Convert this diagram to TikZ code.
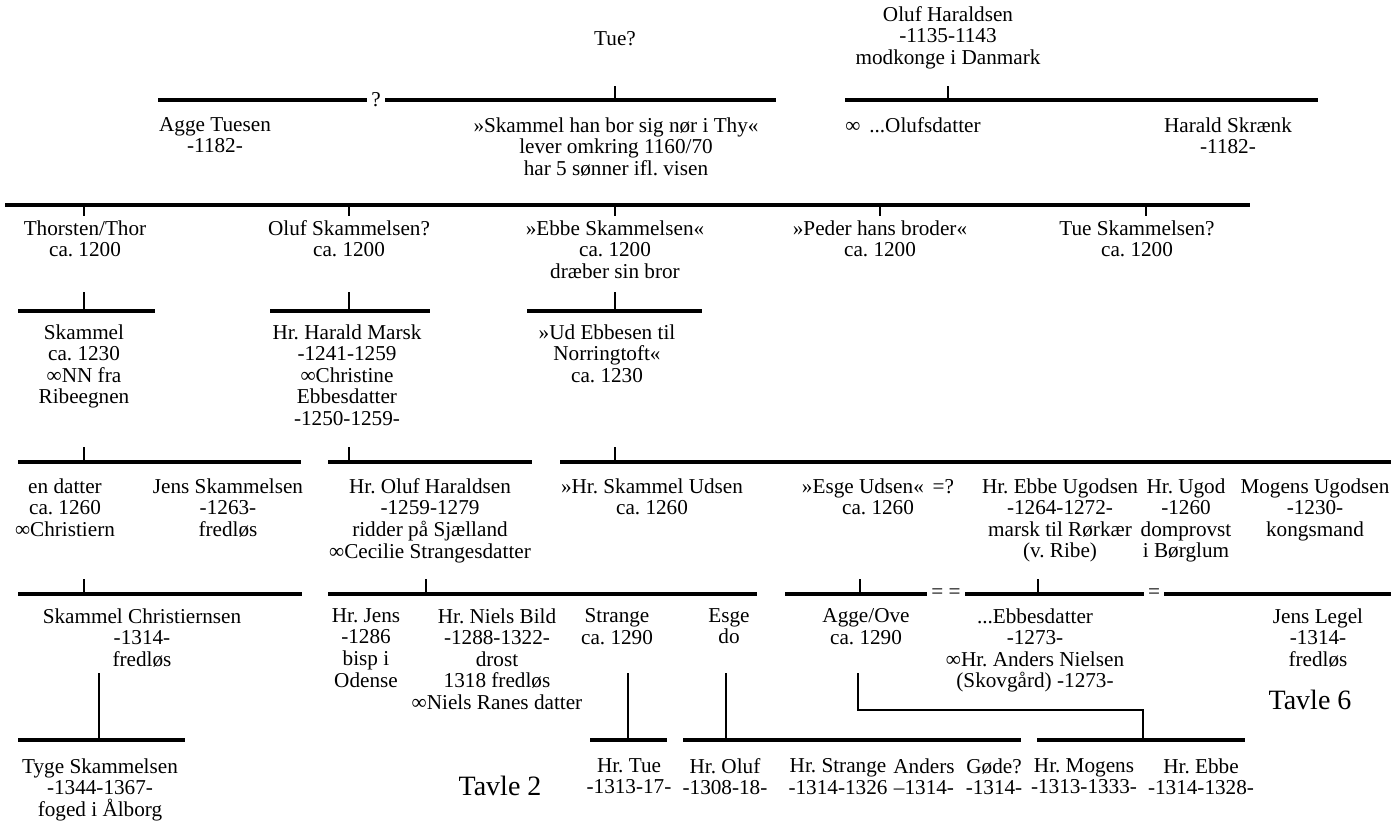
\documentclass[tikz,border=0pt]{standalone}
\usepackage{fontspec}
\setmainfont{Liberation Serif}
\frenchspacing
\usetikzlibrary{calc}
\tikzset{
	person/.style={align=center, anchor=north, inner sep=0pt, font=\fontsize{10.6}{10.8}\selectfont},
	bar/.style={line width=1.6pt},
	tick/.style={line width=1pt},
	stem/.style={line width=1.4pt},
	gap/.style={inner sep=2pt, font=\fontsize{10.6}{10.8}\selectfont},
	tavle/.style={font=\fontsize{14}{14}\selectfont}
}

\begin{document}
\begin{tikzpicture}[x=0.5pt, y=-0.5pt]
			%%%%% START %%%%%
			\useasboundingbox (0, 0) rectangle (1391, 823);
			
			\node[person] (tue) at (615, 31) {Tue?};
			\node[person] (olufhar) at (948, 6) {Oluf Haraldsen\\-1135-1143\\modkonge i Danmark};
			
			\coordinate (j0a) at (615, 100);
			\coordinate (j0b) at (948, 100);
			\node[gap] (q0) at (376, 100) {?};
			\draw[bar] (158, 100) -- (q0.west);
			\draw[bar] (q0.east) -- (776, 100);
			\draw[bar] (845, 100) -- (1318, 100);
			\draw[tick] (j0a) -- ++(0, -14);
			\draw[tick] (j0b) -- ++(0, -14);
			
			\node[person] (agge) at (215, 117) {Agge Tuesen\\-1182-};
			\node[person] (skammel) at (616, 117) {»Skammel han bor sig nør i Thy«\\lever omkring 1160/70\\har 5 sønner ifl. visen};
			\node[person, anchor=north west] (olufsd) at (845, 117) {∞ \,...Olufsdatter};
			\node[person] (skraenk) at (1228, 117) {Harald Skrænk\\-1182-};
			
			\draw[bar] (5, 205) -- (1250, 205);
			\foreach \x [count=\i] in {84, 349, 615, 880, 1146}
				\draw[tick] (\x, 205) coordinate (j1\i) -- ++(0, 11);
			
			\node[person] (thor) at (85, 220) {Thorsten/Thor\\ca. 1200};
			\node[person] (olufsk) at (349, 220) {Oluf Skammelsen?\\ca. 1200};
			\node[person] (ebbe) at (615, 220) {»Ebbe Skammelsen«\\ca. 1200\\dræber sin bror};
			\node[person] (peder) at (880, 220) {»Peder hans broder«\\ca. 1200};
			\node[person] (tuesk) at (1137, 220) {Tue Skammelsen?\\ca. 1200};
			
			\draw[bar] (18, 311) -- (155, 311);
			\draw[bar] (270, 311) -- (430, 311);
			\draw[bar] (527, 311) -- (702, 311);
			\foreach \x [count=\i] in {84, 349, 615}
				\draw[tick] (\x, 311) coordinate (j2\i) -- ++(0, -19);
			
			\node[person] (skam2) at (84, 324) {Skammel\\ca. 1230\\∞NN fra\\Ribeegnen};
			\node[person] (harald) at (347, 324) {Hr. Harald Marsk\\-1241-1259\\∞Christine\\Ebbesdatter\\-1250-1259-};
			\node[person] (ud) at (607, 324) {»Ud Ebbesen til\\Norringtoft«\\ca. 1230};
			
			\draw[bar] (18, 462) -- (301, 462);
			\draw[bar] (328, 462) -- (532, 462);
			\draw[bar] (560, 462) -- (1391, 462);
			\foreach \x [count=\i] in {84, 349, 615}
				\draw[tick] (\x, 462) coordinate (j3\i) -- ++(0, -15);
			
			\node[person] (datter) at (65, 478) {en datter\\ca. 1260\\∞Christiern};
			\node[person] (jenssk) at (228, 478) {Jens Skammelsen\\-1263-\\fredløs};
			\node[person] (olufh2) at (430, 478) {Hr. Oluf Haraldsen\\-1259-1279\\ridder på Sjælland\\∞Cecilie Strangesdatter};
			\node[person] (udsen) at (652, 478) {»Hr. Skammel Udsen\\ca. 1260};
			\node[person] (esgeu) at (878, 478) {»Esge Udsen« \,=?\\ca. 1260};
			\node[person] (ebbeu) at (1060, 478) {Hr. Ebbe Ugodsen\\-1264-1272-\\marsk til Rørkær\\(v. Ribe)};
			\node[person] (ugod) at (1186, 478) {Hr. Ugod\\-1260\\domprovst\\i Børglum};
			\node[person] (mogensu) at (1315, 478) {Mogens Ugodsen\\-1230-\\kongsmand};
			
			\node[gap] (eq1) at (946, 594) {= =};
			\node[gap] (eq2) at (1154, 594) {=};
			\draw[bar] (18, 594) -- (302, 594);
			\draw[bar] (328, 594) -- (757, 594);
			\draw[bar] (785, 594) -- (eq1.west);
			\draw[bar] (eq1.east) -- (eq2.west);
			\draw[bar] (eq2.east) -- (1391, 594);
			\foreach \x [count=\i] in {84, 426, 860, 1038}
				\draw[tick] (\x, 594) coordinate (j4\i) -- ++(0, -15);
			
			\node[person] (schr) at (142, 608) {Skammel Christiernsen\\-1314-\\fredløs};
			\node[person] (hrjens) at (366, 608) {Hr. Jens\\-1286\\bisp i\\Odense};
			\node[person] (niels) at (497, 608) {Hr. Niels Bild\\-1288-1322-\\drost\\1318 fredløs\\∞Niels Ranes datter};
			\node[person] (strange) at (617, 608) {Strange\\ca. 1290};
			\node[person] (esge) at (729, 608) {Esge\\do};
			\node[person] (ove) at (866, 608) {Agge/Ove\\ca. 1290};
			\node[person] (ebbesd) at (1035, 608) {...Ebbesdatter\\-1273-\\∞Hr. Anders Nielsen\\(Skovgård) -1273-};
			\node[person] (legel) at (1318, 608) {Jens Legel\\-1314-\\fredløs};
			\node[tavle] (t6) at (1310, 700) {Tavle 6};
			
			\coordinate (j5a) at (99, 740);
			\coordinate (j5b) at (628, 740);
			\coordinate (j5c) at (726, 740);
			\coordinate (j5d) at (1143, 740);
			\coordinate (ovetop) at (858, 673);
			\draw[stem] (j5a) -- ++(0, -67);
			\draw[stem] (j5b) -- ++(0, -67);
			\draw[stem] (j5c) -- ++(0, -67);
			\draw[stem] (j5d) -- ++(0, -30) -| (ovetop);
			
			\draw[bar] (18, 740) -- (185, 740);
			\draw[bar] (590, 740) -- (667, 740);
			\draw[bar] (683, 740) -- (1021, 740);
			\draw[bar] (1037, 740) -- (1245, 740);
			
			\node[person] (tyge) at (100, 758) {Tyge Skammelsen\\-1344-1367-\\foged i Ålborg};
			\node[person] (hrtue) at (629, 758) {Hr. Tue\\-1313-17-};
			\node[person] (hroluf) at (725, 758) {Hr. Oluf\\-1308-18-};
			\node[person] (hrstrange) at (838, 758) {Hr. Strange\\-1314-1326};
			\node[person] (anders) at (924, 758) {Anders\\–1314-};
			\node[person] (gode) at (994, 758) {Gøde?\\-1314-};
			\node[person] (hrmogens) at (1084, 758) {Hr. Mogens\\-1313-1333-};
			\node[person] (hrebbe) at (1201, 758) {Hr. Ebbe\\-1314-1328-};
			\node[tavle] (t2) at (500, 786) {Tavle 2};
			
			%%%%% END %%%%%
\end{tikzpicture}
\end{document}
